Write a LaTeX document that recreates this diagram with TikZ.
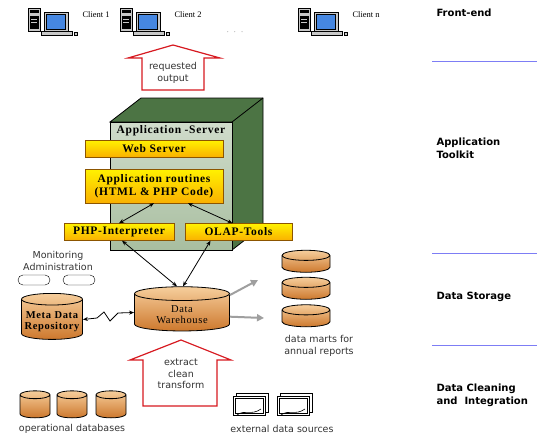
\documentclass[tikz,border=0pt]{standalone}
\usepackage{fontspec}
\setmainfont{Liberation Serif}
\setsansfont{DejaVu Sans}
\newfontfamily\srvfont[LetterSpace=6]{Liberation Serif}
\usetikzlibrary{arrows.meta,positioning,shapes.geometric}
\definecolor{srvLight}{RGB}{208,220,203}
\definecolor{srvMid}{RGB}{168,190,160}
\definecolor{srvDark}{RGB}{76,116,68}
\definecolor{boxTop}{RGB}{255,242,0}
\definecolor{boxBot}{RGB}{250,176,0}
\definecolor{boxEdge}{RGB}{140,85,0}
\definecolor{dbTop}{RGB}{246,206,156}
\definecolor{dbBot}{RGB}{205,120,45}
\definecolor{flowRed}{RGB}{215,25,32}
\definecolor{laneBlue}{RGB}{125,125,245}
\definecolor{pcGrey}{RGB}{200,200,200}
\definecolor{pcBlue}{RGB}{70,135,225}

\begin{document}
\begin{tikzpicture}[x=1pt,y=-1pt,
      font=\sffamily\fontsize{9.5}{11.5}\selectfont,
      >={Stealth[length=5pt,width=4pt]},
      ybox/.style={rectangle,draw=boxEdge,top color=boxTop,bottom color=boxBot,
                   font=\srvfont\bfseries\fontsize{11.5}{13}\selectfont,
                   align=center,inner sep=1pt,minimum height=17},
      db/.style={cylinder,shape border rotate=90,draw=black,line width=0.8pt,
                 top color=dbTop,bottom color=dbBot,inner sep=0pt,aspect=0.2,
                 align=center,font=\srvfont\bfseries\fontsize{10.5}{11.5}\selectfont},
      pill/.style={rectangle,rounded corners=5pt,draw=black,fill=white,
                   minimum width=32,minimum height=10,inner sep=0pt},
      flow/.style={draw=flowRed,line width=1.2pt,fill=white},
      txt/.style={align=center,text=black!80},
      clbl/.style={anchor=west,font=\rmfamily\fontsize{8.5}{9}\selectfont},
      lanelbl/.style={anchor=west,align=left,font=\sffamily\bfseries\fontsize{10}{13}\selectfont},
      lane/.style={laneBlue,line width=0.8pt},
      dar/.style={<->,line width=0.8pt},
      gar/.style={-{Triangle[length=7pt,width=7pt]},gray!75,line width=2pt}]

    \useasboundingbox (0,0) rectangle (541,439);

    % ---------- front-end : clients ----------
    \foreach \x/\nm/\txt in {28/cA/Client 1,120/cB/Client 2,298/cN/Client n}{
      \draw[fill=pcGrey] (\x,8) rectangle ++(12,23);
      \fill (\x+1.5,10) rectangle ++(9,3);
      \fill (\x+1.5,16) rectangle ++(9,13);
      \draw[pcGrey] (\x+3,19) -- ++(6,0) (\x+3,22) -- ++(6,0);
      \draw[fill=pcGrey] (\x+16,12) rectangle (\x+40,31);
      \draw[fill=pcBlue] (\x+18.5,14) rectangle (\x+37.5,29);
      \draw[fill=pcGrey] (\x+13,31) rectangle (\x+44,35);
      \draw[fill=pcGrey] (\x+46,32) rectangle ++(3,3);
      \node[clbl] (\nm) at (\x+51,15) {\txt};
    }
    \node[text=black!60] (dots) at (235,32) {$\cdot\;\cdot\;\cdot$};

    \draw[flow] (142,90) -- (142,58) -- (128,58) -- (173,45) -- (220,58)
                -- (204,58) -- (204,90) -- cycle;
    \node[txt] (req) at (173,73) {requested\\output};

    % ---------- application server ----------
    \coordinate (sfl) at (110,122);
    \coordinate (sfr) at (232,122);
    \coordinate (sbl) at (141,98);
    \coordinate (sbr) at (263,98);
    \coordinate (sdr) at (263,226);
    \coordinate (sdl) at (232,250);
    \draw[fill=srvDark,line width=0.8pt] (sfl) -- (sbl) -- (sbr) -- (sdr) -- (sdl) -- (sfr) -- cycle;
    \draw[line width=0.8pt] (sfr) -- (sbr);
    \draw[top color=srvLight,bottom color=srvMid,line width=0.8pt] (sfl) rectangle (sdl);
    \node[font=\srvfont\bfseries\fontsize{11.5}{12}\selectfont] (srv) at (171,131) {Application -Server};

    \node[ybox,minimum width=138] (web) at (154,148.5) {Web Server};
    \node[ybox,minimum width=138,minimum height=34] (app) at (154,186)
      {Application routines\\(HTML \& PHP Code)};
    \node[ybox,minimum width=110] (php) at (119,232) {PHP-Interpreter};
    \node[ybox,minimum width=107] (olap) at (238.5,232) {OLAP-Tools};
    \draw[dar] (php.north) -- (app.south);
    \draw[dar] ([xshift=-6]olap.north) -- ([xshift=34]app.south);

    % ---------- data storage ----------
    \node[db,text width=60,minimum width=95,minimum height=41,aspect=0.23,
          font=\srvfont\fontsize{10.5}{11.5}\selectfont]
      (dw) at (182,312.5) {\\Data\\Warehouse};
    \node[db,text width=58,minimum width=61,minimum height=46] (meta) at (52,319.5)
      {\\Meta Data\\Repository};
    \draw[dar] ([xshift=3]php.south) -- ([xshift=-5]dw.north);
    \draw[dar] ([xshift=-28]olap.south) -- ([xshift=1]dw.north);
    \draw[dar] (meta.east) -- (97,318) -- (104,312) -- (110,321) -- (118,313) -- (dw.west);

    \node[txt] (monlbl) at (58,261) {Monitoring\\Administration};
    \node[pill] (mon1) at (34,280) {};
    \node[pill] (mon2) at (79,280) {};

    \foreach \y/\nm in {264/dm1,291/dm2,318.5/dm3}
      \node[db,text width=44,minimum width=48,minimum height=22,aspect=0.23] (\nm) at (306,\y) {};
    \node[txt] (dmlbl) at (319,346) {data marts for\\annual reports};
    \coordinate (toA) at (258,280);
    \coordinate (toB) at (264,318);
    \draw[gar] (dw.20) -- (toA);
    \draw[gar] (dw.-5) -- (toB);

    % ---------- data cleaning and integration ----------
    \draw[flow] (143,406) -- (143,360) -- (130,360) -- (181,340) -- (231,360)
                -- (217,360) -- (217,406) -- cycle;
    \node[txt] (etl) at (181,374) {extract\\clean\\transform};

    \foreach \x/\nm in {35/op1,72/op2,111/op3}
      \node[db,text width=26,minimum width=30,minimum height=27,aspect=0.3] (\nm) at (\x,406.5) {};
    \node[txt] (oplbl) at (72,429) {operational databases};

    \foreach \x/\nm in {233/ext1,277/ext2}{
      \draw[fill=white,line width=0.7pt] (\x+3,393) rectangle (\x+35,412);
      \draw[fill=white,line width=0.7pt] (\x,396) rectangle (\x+32,415);
      \draw[line width=0.6pt] (\x+2,398) rectangle (\x+30,413);
      \draw[line width=0.6pt] (\x+4,415) .. controls (\x+12,409) and (\x+18,416) .. (\x+28,409);
      \coordinate (\nm) at (\x+17,404);
    }
    \node[txt] (extlbl) at (282,429) {external data sources};

    % ---------- layer labels ----------
    \node[lanelbl] (lFront) at (433,13) {Front-end};
    \node[lanelbl] (lApp)   at (433,148) {Application\\Toolkit};
    \node[lanelbl] (lStore) at (433,297) {Data Storage};
    \node[lanelbl] (lClean) at (433,395) {Data Cleaning\\and\ \ Integration};
    \foreach \y in {61,253,345} \draw[lane] (432,\y) -- (537,\y);
  \end{tikzpicture}
\end{document}
